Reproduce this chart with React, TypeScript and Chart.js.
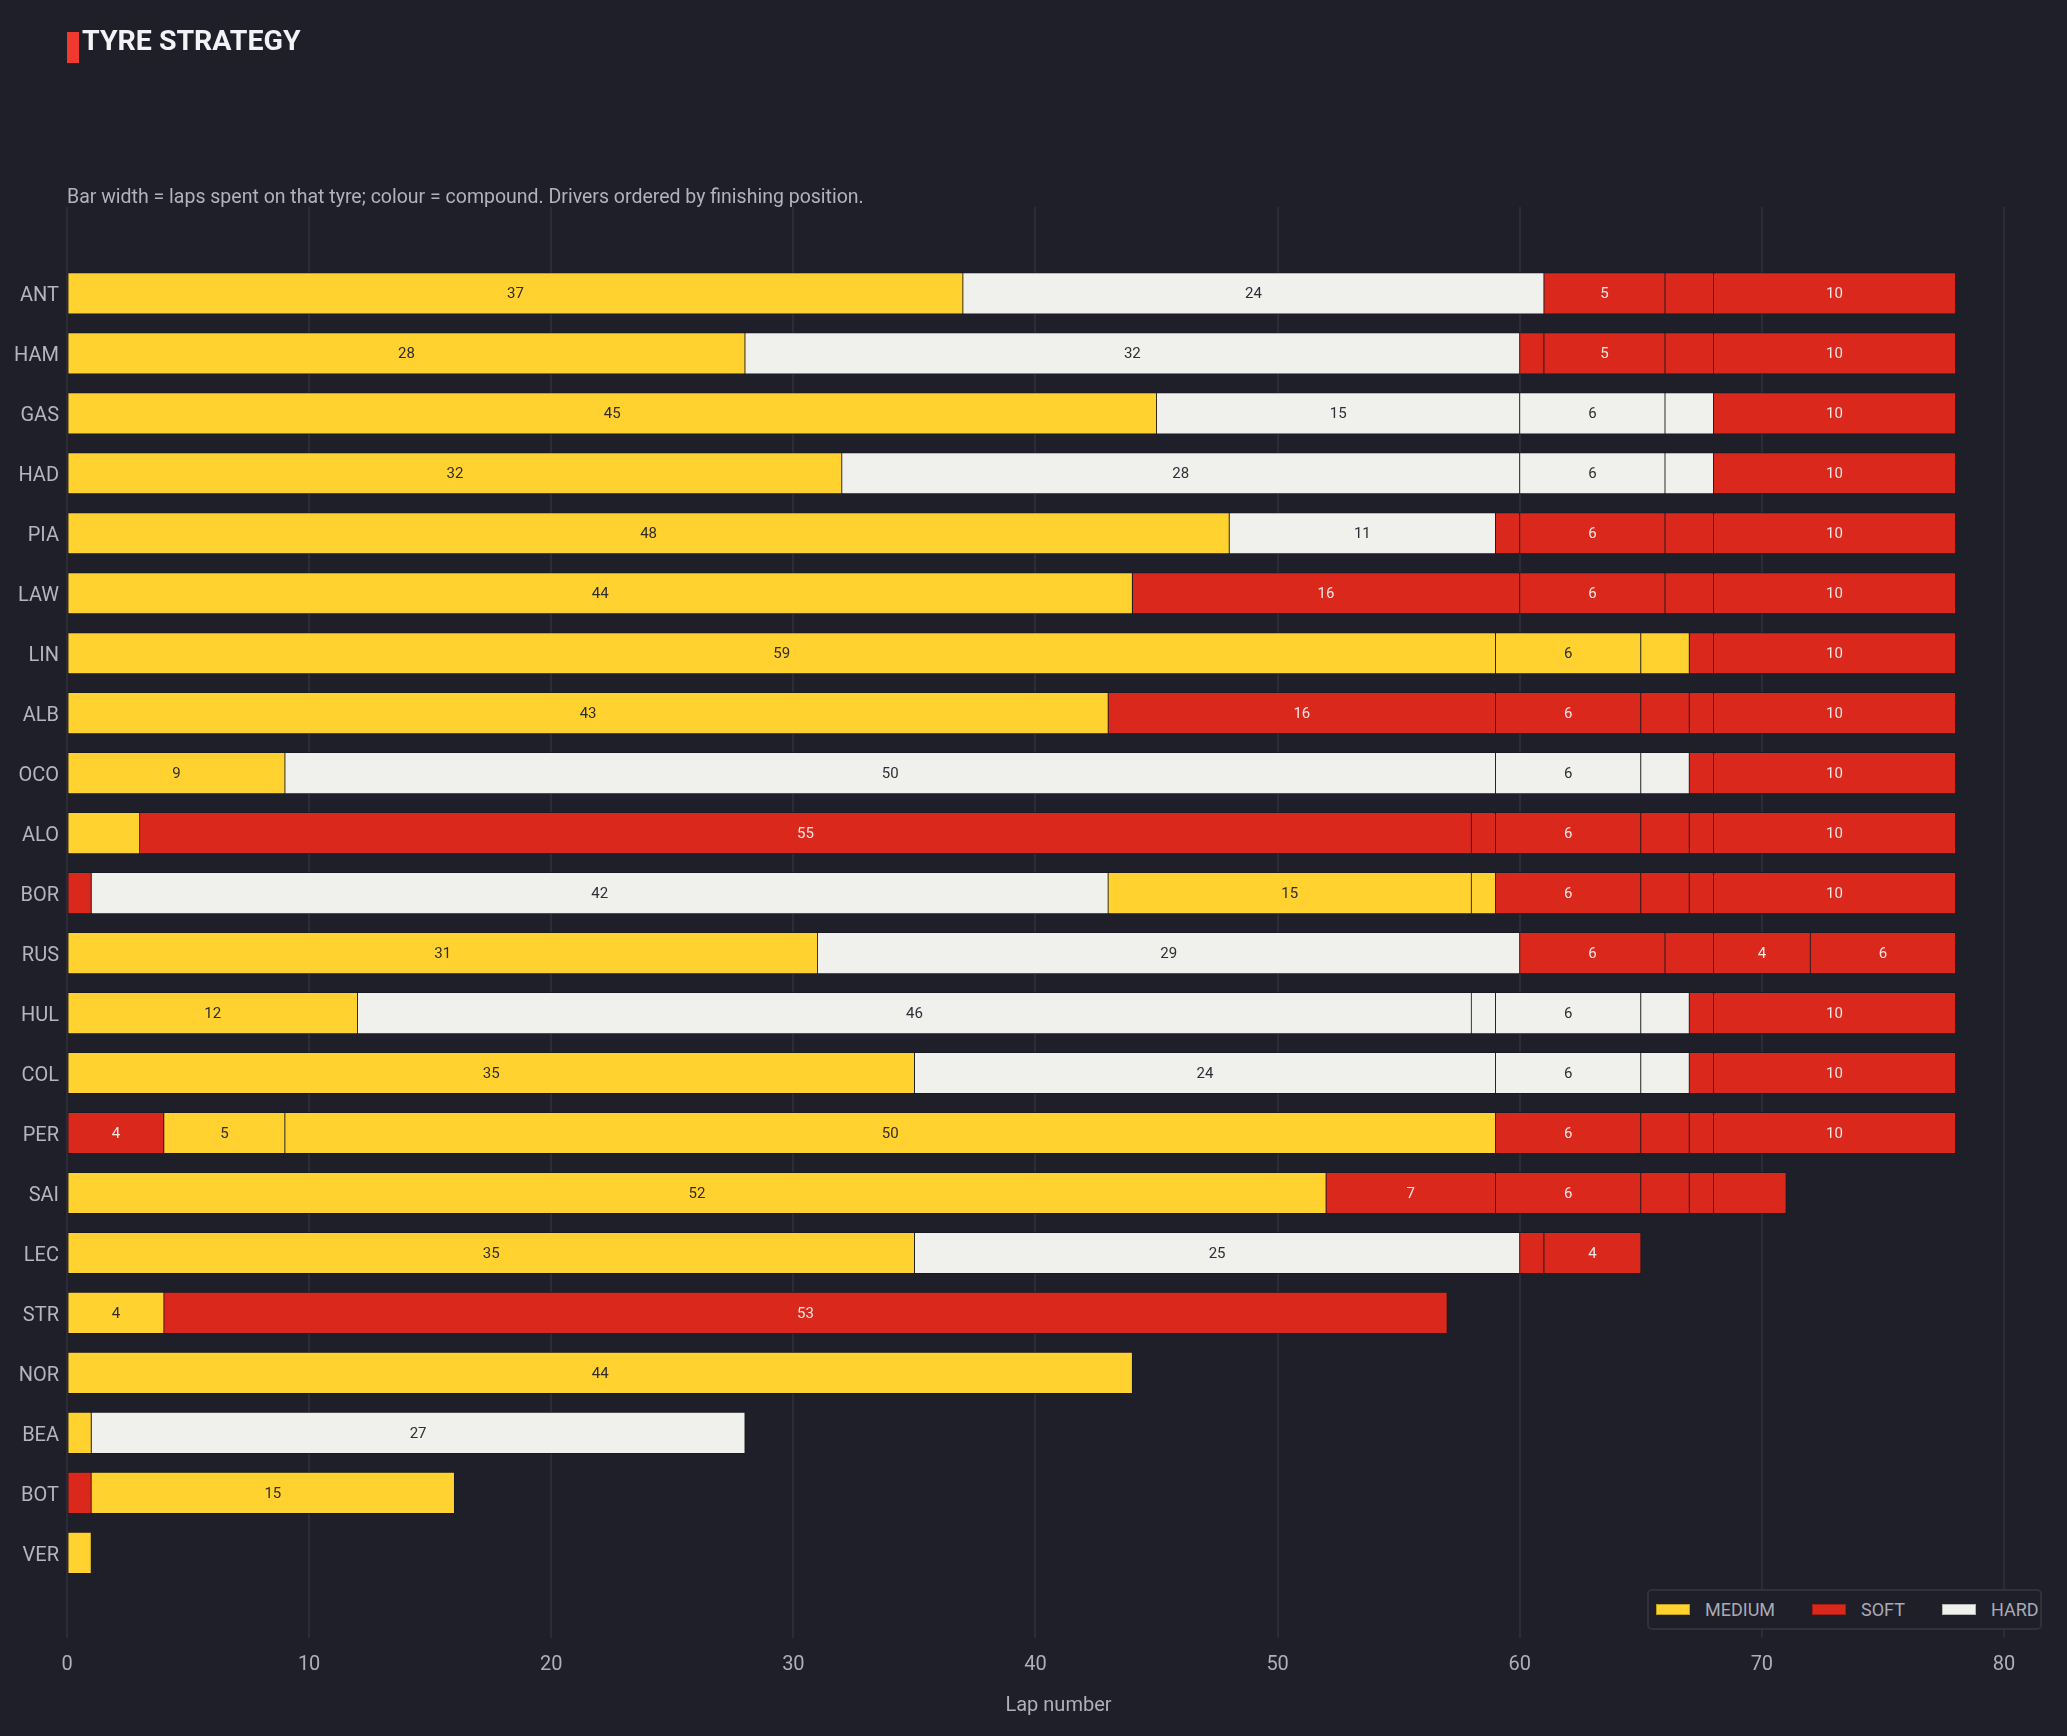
import React, { useEffect, useRef } from 'react';
import { Chart, registerables } from 'chart.js';

Chart.register(...registerables);

// Drivers in finishing order (top to bottom)
const drivers = [
  'ANT', 'HAM', 'GAS', 'HAD', 'PIA', 'LAW', 'LIN', 'ALB', 'OCO', 'ALO', 'BOR',
  'RUS', 'HUL', 'COL', 'PER', 'SAI', 'LEC', 'STR', 'NOR', 'BEA', 'BOT', 'VER',
];

// Laps on each set of tyres, in the order they were run
const stintLaps: number[][] = [
  [37, 24, 5, 2, 10],          // ANT
  [28, 32, 1, 5, 2, 10],       // HAM
  [45, 15, 6, 2, 10],          // GAS
  [32, 28, 6, 2, 10],          // HAD
  [48, 11, 1, 6, 2, 10],       // PIA
  [44, 16, 6, 2, 10],          // LAW
  [59, 6, 2, 1, 10],           // LIN
  [43, 16, 6, 2, 1, 10],       // ALB
  [9, 50, 6, 2, 1, 10],        // OCO
  [3, 55, 1, 6, 2, 1, 10],     // ALO
  [1, 42, 15, 1, 6, 2, 1, 10], // BOR
  [31, 29, 6, 2, 4, 6],        // RUS
  [12, 46, 1, 6, 2, 1, 10],    // HUL
  [35, 24, 6, 2, 1, 10],       // COL
  [4, 5, 50, 6, 2, 1, 10],     // PER
  [52, 7, 6, 2, 1, 3],         // SAI
  [35, 25, 1, 4],              // LEC
  [4, 53],                     // STR
  [44],                        // NOR
  [1, 27],                     // BEA
  [1, 15],                     // BOT
  [1],                         // VER
];

// Compound of each stint: M = medium, S = soft, H = hard
const stintCompounds: string[][] = [
  ['M', 'H', 'S', 'S', 'S'],
  ['M', 'H', 'S', 'S', 'S', 'S'],
  ['M', 'H', 'H', 'H', 'S'],
  ['M', 'H', 'H', 'H', 'S'],
  ['M', 'H', 'S', 'S', 'S', 'S'],
  ['M', 'S', 'S', 'S', 'S'],
  ['M', 'M', 'M', 'S', 'S'],
  ['M', 'S', 'S', 'S', 'S', 'S'],
  ['M', 'H', 'H', 'H', 'S', 'S'],
  ['M', 'S', 'S', 'S', 'S', 'S', 'S'],
  ['S', 'H', 'M', 'M', 'S', 'S', 'S', 'S'],
  ['M', 'H', 'S', 'S', 'S', 'S'],
  ['M', 'H', 'H', 'H', 'H', 'S', 'S'],
  ['M', 'H', 'H', 'H', 'S', 'S'],
  ['S', 'M', 'M', 'S', 'S', 'S', 'S'],
  ['M', 'S', 'S', 'S', 'S', 'S'],
  ['M', 'H', 'S', 'S'],
  ['M', 'S'],
  ['M'],
  ['M', 'H'],
  ['S', 'M'],
  ['M'],
];

const compoundNames = ['MEDIUM', 'SOFT', 'HARD'];
const compoundCodes = ['M', 'S', 'H'];
const compoundColors = ['#ffd22f', '#da291c', '#f0f0ec'];
const compoundTextColors = ['#2f2d29', '#f8e6e4', '#2e2e36'];

const BG = '#1e1f29';
const FONT = 'Roboto, "Noto Sans", sans-serif';
const AXIS_TEXT = '#aeafba';
const MIN_LABEL_LAPS = 4;
const LAP_AXIS_MAX = 81.9; // longest race distance plus 5% headroom

function buildDatasets() {
  return compoundCodes.map((code, c) => {
    const data: { x: [number, number]; y: number }[] = [];
    drivers.forEach((_, i) => {
      let lap = 0;
      stintLaps[i].forEach((laps, j) => {
        if (stintCompounds[i][j] === code) data.push({ x: [lap, lap + laps], y: i });
        lap += laps;
      });
    });
    return {
      label: compoundNames[c],
      data,
      backgroundColor: compoundColors[c],
      borderColor: '#16171d',
      borderWidth: 0.75,
      borderSkipped: false,
      barThickness: 41,
      grouped: false,
    };
  });
}

// Writes the lap count in the middle of every stint that is long enough
const stintLabels = {
  id: 'stintLabels',
  afterDatasetsDraw(chart: any) {
    const { ctx } = chart;
    ctx.save();
    ctx.font = `15px ${FONT}`;
    ctx.textAlign = 'center';
    ctx.textBaseline = 'middle';
    chart.data.datasets.forEach((ds: any, d: number) => {
      const meta = chart.getDatasetMeta(d);
      meta.data.forEach((bar: any, k: number) => {
        const [a, b] = ds.data[k].x;
        const laps = b - a;
        if (laps < MIN_LABEL_LAPS) return;
        ctx.fillStyle = compoundTextColors[d];
        ctx.fillText(String(laps), (bar.x + bar.base) / 2, bar.y + 1);
      });
    });
    ctx.restore();
  },
};

export default function App() {
  const ref = useRef<HTMLCanvasElement | null>(null);

  useEffect(() => {
    if (!ref.current) return;
    const chart = new Chart(ref.current, {
      type: 'bar',
      data: { datasets: buildDatasets() as any },
      options: {
        indexAxis: 'y',
        animation: false,
        responsive: false,
        layout: { padding: { top: 207, right: 17, bottom: 0, left: 0 } },
        plugins: {
          legend: { display: false },
          tooltip: { enabled: false },
        },
        scales: {
          x: {
            type: 'linear',
            position: 'bottom',
            min: 0,
            max: LAP_AXIS_MAX,
            ticks: {
              stepSize: 10,
              includeBounds: false,
              color: AXIS_TEXT,
              font: { family: FONT, size: 20 },
              padding: 15,
            },
            grid: { color: '#2b2c37', lineWidth: 2, drawTicks: false },
            border: { display: false },
            title: {
              display: true,
              text: 'Lap number',
              color: AXIS_TEXT,
              font: { family: FONT, size: 20 },
              padding: { top: 0, bottom: 18 },
            },
            afterFit: (s: any) => {
              s.height = 98;
            },
          },
          y: {
            type: 'linear',
            reverse: true,
            offset: false,
            min: -1.44,
            max: 22.42,
            afterBuildTicks: (s: any) => {
              s.ticks = drivers.map((_, i) => ({ value: i }));
            },
            ticks: {
              autoSkip: false,
              callback: (v: any) => drivers[v] ?? '',
              color: '#b4b5bf',
              font: { family: FONT, size: 20 },
              padding: 8,
              labelOffset: 3,
            },
            grid: { display: false, drawTicks: false, offset: false },
            border: { display: false },
            afterFit: (s: any) => {
              s.width = 67;
            },
          },
        },
      } as any,
      plugins: [stintLabels],
    });
    return () => chart.destroy();
  }, []);

  return (
    <div
      style={{
        position: 'fixed',
        left: 0,
        top: 0,
        width: 2067,
        height: 1736,
        background: BG,
        overflow: 'hidden',
        fontFamily: FONT,
      }}
    >
      <canvas
        ref={ref}
        width={2067}
        height={1736}
        style={{ position: 'absolute', left: 0, top: 0, display: 'block' }}
      />
      <div
        style={{
          position: 'absolute',
          left: 67,
          top: 32,
          width: 12,
          height: 31,
          background: '#f03a2e',
        }}
      />
      <div
        style={{
          position: 'absolute',
          left: 82,
          top: 41,
          transform: 'translateY(-50%)',
          fontSize: 28.5,
          fontWeight: 700,
          lineHeight: 1,
          color: '#f3f3f6',
          whiteSpace: 'nowrap',
        }}
      >
        TYRE STRATEGY
      </div>
      <div
        style={{
          position: 'absolute',
          left: 67,
          top: 197,
          transform: 'translateY(-50%)',
          fontSize: 19.5,
          lineHeight: 1,
          color: '#b1b2bc',
          whiteSpace: 'nowrap',
        }}
      >
        Bar width = laps spent on that tyre; colour = compound. Drivers ordered by finishing position.
      </div>
      <div
        style={{
          position: 'absolute',
          left: 1647,
          top: 1589,
          width: 395,
          height: 41,
          boxSizing: 'border-box',
          border: '2px solid #30313b',
          borderRadius: 5,
          background: BG,
          display: 'flex',
          alignItems: 'center',
          paddingLeft: 7,
          gap: 37,
        }}
      >
        {compoundNames.map((name, i) => (
          <div key={name} style={{ display: 'flex', alignItems: 'center' }}>
            <span
              style={{
                display: 'inline-block',
                width: 34,
                height: 11,
                boxSizing: 'border-box',
                background: compoundColors[i],
                border: '1px solid rgba(0,0,0,0.25)',
                marginRight: 15,
              }}
            />
            <span style={{ fontSize: 18, lineHeight: 1, color: '#a9aab5' }}>{name}</span>
          </div>
        ))}
      </div>
    </div>
  );
}
